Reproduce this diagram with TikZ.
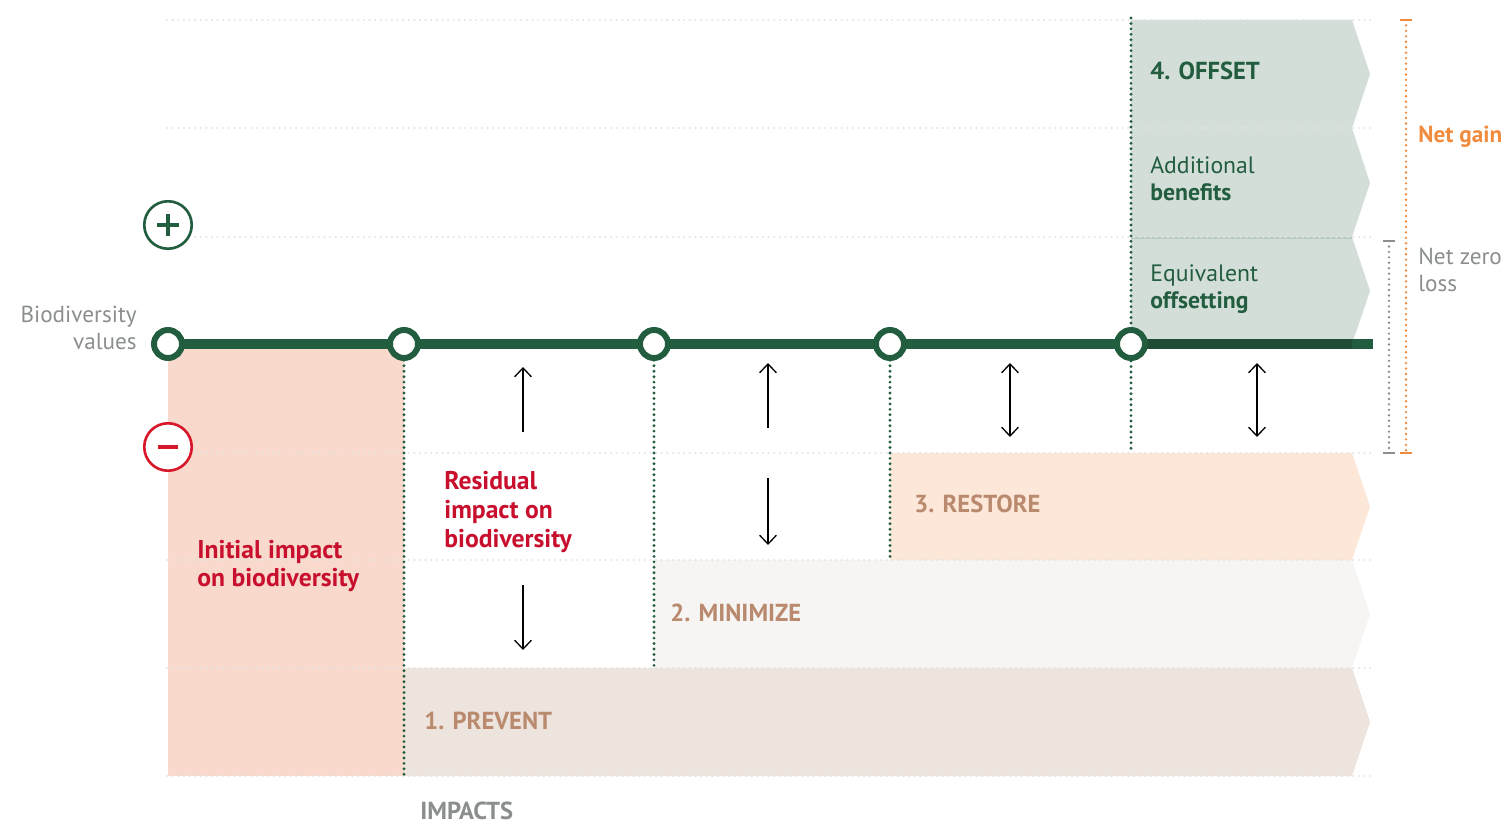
\documentclass[tikz,border=0pt]{standalone}
\usepackage{fontspec}
\setmainfont{PT Sans}
\usepackage{xcolor}
\usetikzlibrary{arrows.meta}

\definecolor{dkgreen}{HTML}{235D3F}
\definecolor{dkline}{HTML}{1E4C35}
\definecolor{redtext}{HTML}{C8102E}
\definecolor{minusred}{HTML}{D7182A}
\definecolor{impactfill}{HTML}{F8D9CB}
\definecolor{preventfill}{HTML}{EDE4DE}
\definecolor{minimizefill}{HTML}{F7F5F3}
\definecolor{restorefill}{HTML}{FCE7D8}
\definecolor{offsetfill}{HTML}{D3DED8}
\definecolor{offsetline}{HTML}{B9CCC2}
\definecolor{bandtext}{HTML}{B98A6E}
\definecolor{graytext}{HTML}{8A8F8C}
\definecolor{gridgray}{HTML}{E4E4E4}
\definecolor{gainorange}{HTML}{F08A3C}

\begin{document}
\begin{tikzpicture}[x=0.02cm,y=-0.02cm,>={Straight Barb[length=5pt,width=9.5pt]},
	gridline/.style={draw=gridgray,line width=1.3pt,dash pattern=on 0pt off 3.2pt,line cap=round},
	guide/.style={draw=dkgreen,line width=1.8pt,dash pattern=on 0pt off 3.1pt,line cap=round},
	valdot/.style={circle,draw=dkgreen,fill=white,line width=3.4pt,minimum size=0.56cm,inner sep=0pt},
	signring/.style={circle,line width=1.5pt,fill=white,minimum size=0.95cm,inner sep=0pt},
	bandlabel/.style={anchor=west,inner sep=0pt,text=bandtext,font=\fontsize{14}{17}\selectfont\bfseries},
	redlabel/.style={anchor=west,align=left,inner sep=0pt,text=redtext,font=\fontsize{14.6}{16.4}\selectfont\bfseries},
	greenlabel/.style={anchor=west,align=left,inner sep=0pt,text=dkgreen,font=\fontsize{13.5}{15.2}\selectfont},
	sidelabel/.style={inner sep=0pt,font=\fontsize{13.2}{15.3}\selectfont},
	bracket/.style={line width=1.5pt,dash pattern=on 0pt off 3.1pt,line cap=round}]
	
	\useasboundingbox (0,0) rectangle (1509,824);
	
	% Initial impact
	\fill[impactfill] (168,344) rectangle (404,776);
	
	% Mitigation bands
	\foreach \x/\ya/\yb/\col in {404/668/776/preventfill,654/560/668/minimizefill,890/453/560/restorefill}
	\fill[\col] (\x,\ya) -- (1352,\ya) -- (1370,{(\ya+\yb)/2}) -- (1352,\yb) -- (\x,\yb) -- cycle;
	
	% Offset
	\fill[offsetfill] (1131,20) -- (1352,20) -- (1370,74) -- (1352,128) -- (1370,183)
	-- (1352,237) -- (1370,291) -- (1352,344) -- (1131,344) -- cycle;
	\draw[offsetline,line width=1pt] (1131,238) -- (1352,238);
	
	% Grid
	\foreach \y in {20,128,237,453,560,668,776}
	\draw[gridline] (167,\y) -- (1372,\y);
	
	% Value points and main line
	\foreach \n/\x in {1/168,2/404,3/654,4/890,5/1131}
	\coordinate (p\n) at (\x,344);
	\coordinate (offend) at (1352,344);
	\coordinate (lineend) at (1373,344);
	\draw[dkgreen,line width=5.7pt] (p1) -- (lineend);
	\draw[dkline,line width=5.7pt] (p5) -- (offend);
	
	% Guides
	\foreach \n/\x/\ya/\yb in {2/404/344/776,3/654/344/668,4/890/344/560,5/1131/18/450}{
		\coordinate (gt\n) at (\x,\ya);
		\coordinate (gb\n) at (\x,\yb);
		\draw[guide] (gt\n) -- (gb\n);
	}
	
	\foreach \n in {1,...,5}
	\node[valdot] (c\n) at (p\n) {};
	
	% Arrows
	\foreach \n/\x/\ya/\yb/\tip in {1/523/432/367/->,2/523/585/650/->,3/768/428/363/->,4/768/478/545/->,5/1010/363/437/<->,6/1257/363/437/<->}{
		\coordinate (at\n) at (\x,\ya);
		\coordinate (ah\n) at (\x,\yb);
		\draw[\tip,line width=0.75pt] (at\n) -- (ah\n);
	}
	
	% Plus / minus
	\node[signring,draw=dkgreen] (plus) at (168,225) {};
	\draw[dkgreen,line width=2.6pt] (plus.center) ++(-11,0) -- ++(22,0);
	\draw[dkgreen,line width=2.6pt] (plus.center) ++(0,-11) -- ++(0,22);
	\node[signring,draw=minusred] (minus) at (168,447) {};
	\draw[minusred,line width=2.4pt] (minus.center) ++(-10,0) -- ++(20,0);
	
	\node[sidelabel,anchor=east,align=right,text=graytext] (biovals) at (137,328) {Biodiversity\\values};
	
	% Impact texts
	\node[redlabel] (initial) at (197,566) {Initial impact\\on biodiversity};
	\node[redlabel] (residual) at (444,512) {Residual\\impact on\\biodiversity};
	
	% Band texts
	\node[bandlabel] (prevent) at (424,721) {1. PREVENT};
	\node[bandlabel] (minimize) at (670,613) {2. MINIMIZE};
	\node[bandlabel] (restore) at (914,504) {3. RESTORE};
	\node[bandlabel,text=dkgreen] (offset) at (1150,71) {4. OFFSET};
	\node[greenlabel] (additional) at (1150,179) {Additional\\\textbf{benefits}};
	\node[greenlabel] (equivalent) at (1150,289) {Equivalent\\\textbf{offsetting}};
	
	% Net brackets
	\draw[graytext,bracket] (1389,241) -- (1389,453);
	\draw[graytext,line width=1.5pt] (1383,241) -- (1395,241) (1383,453) -- (1395,453);
	\draw[gainorange,bracket] (1406,20) -- (1406,453);
	\draw[gainorange,line width=1.5pt] (1400,20) -- (1412,20) (1400,453) -- (1412,453);
	\node[sidelabel,anchor=west,text=gainorange,font=\fontsize{13.2}{15.3}\selectfont\bfseries] (netgain) at (1418,137) {Net gain};
	\node[sidelabel,anchor=west,align=left,text=graytext] (netzero) at (1418,270) {Net zero\\loss};
	
	\node[bandlabel,text=graytext] (impacts) at (420,811) {IMPACTS};
	
\end{tikzpicture}
\end{document}
